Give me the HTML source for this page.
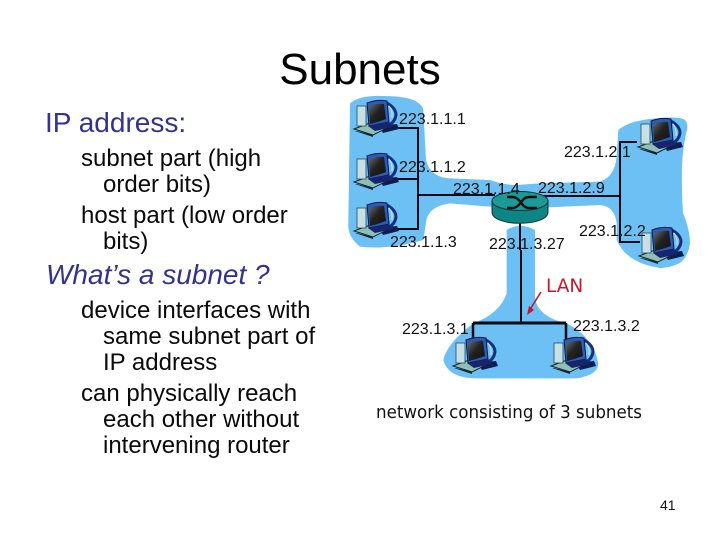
<!DOCTYPE html>
<html><head><meta charset="utf-8"><style>
html,body{margin:0;padding:0;background:#fff}
svg{display:block}
text{font-family:"Liberation Sans",sans-serif}
</style></head><body>
<svg width="720" height="540" viewBox="0 0 720 540" xmlns="http://www.w3.org/2000/svg">
<defs>
<linearGradient id="scr" x1="0" y1="0" x2="1" y2="1"><stop offset="0" stop-color="#6a6a6a"/><stop offset=".45" stop-color="#222"/><stop offset="1" stop-color="#111"/></linearGradient>
<g id="pc">
<path d="M26 26 L44 24 L46 29 L30 33 Z" fill="#0e1c50"/>
<path d="M1 29 L17 23 L34 28 L20 35 Z" fill="#8fc0b4" stroke="#10262c" stroke-width="1"/>
<path d="M4 31 L20 35 L20 37 L2 31 Z" fill="#123"/>
<rect x="4" y="6" width="9" height="20" fill="#c6dfe4" stroke="#2a4a60" stroke-width=".8"/>
<path d="M34 3 Q43 8 43 15 Q42 22 36 25" fill="none" stroke="#16307e" stroke-width="3"/>
<path d="M36 6 Q40 11 39 18" fill="none" stroke="#c4e0ea" stroke-width="1.2"/>
<path d="M14 3 Q24 -1 34 1 L36 22 L16 26 Z" fill="#2a5cb8" stroke="#0a1a40" stroke-width="1"/>
<path d="M16 7 Q23 3 31 4 L33 19 Q25 22 17 24 Z" fill="url(#scr)"/>
<path d="M15 26 L36 22 L40 27 L22 31 Z" fill="#17256e"/>
</g>
</defs>
<text x="360" y="84" font-size="44" text-anchor="middle" fill="#000">Subnets</text>
<text x="45" y="132" font-size="28" fill="#33338c">IP address:</text>
<g font-size="24" fill="#0a0a0a">
<text x="81" y="166">subnet part (high</text>
<text x="103" y="192">order bits)</text>
<text x="81" y="223">host part (low order</text>
<text x="103" y="249">bits)</text>
<text x="81" y="318">device interfaces with</text>
<text x="103" y="344">same subnet part of</text>
<text x="103" y="370">IP address</text>
<text x="81" y="401">can physically reach</text>
<text x="103" y="427">each other without</text>
<text x="103" y="453">intervening router</text>
</g>
<text x="46" y="284" font-size="28" font-style="italic" fill="#33338c">What’s a subnet ?</text>

<g transform="translate(340,90) scale(.3333)" fill="#6cc0f4">
<path d="M30 40 Q60 15 130 18 Q240 18 250 60 L258 210 Q270 262 330 265 L450 270 Q490 285 530 285 L600 280 L780 275 Q825 260 830 200 L835 120 Q870 90 950 85 Q1020 78 1035 90 Q1045 100 1041 120 Q1028 170 1026 231 Q1025 310 1029 369 Q1050 420 1050 459 Q1045 500 1020 519 Q990 534 960 534 Q860 520 830 450 L830 400 Q825 350 780 345 L625 352 L450 350 L330 340 Q260 350 258 400 L250 450 Q150 480 60 470 Q22 440 25 400 Z"/>
</g>
<g transform="translate(360,260) scale(.3333)" fill="#6cc0f4">
<path d="M440 -90 Q480 -115 525 -90 L525 110 Q530 170 620 190 Q700 230 715 310 Q715 345 650 355 L350 355 Q265 355 250 300 Q260 250 340 190 Q420 160 440 100 Z"/>
</g>

<g stroke="#0a0a14" stroke-width="2" fill="none">
<path d="M392 128 H418 V229 H392"/>
<path d="M392 179 H418"/>
<path d="M418 195 H495"/>
<path d="M540 196 H620"/>
<path d="M637 142 H620 V242 H640"/>
<path d="M520 222 V250"/>
<path d="M521 250 V322"/>
<path d="M473 323 H566" stroke-width="3"/>
<path d="M473 323 V340 M566 323 V340" stroke-width="2.5"/>
</g>

<use href="#pc" x="353" y="100"/>
<use href="#pc" x="353" y="153"/>
<use href="#pc" x="353" y="202"/>
<use href="#pc" x="637" y="118"/>
<use href="#pc" x="638" y="227"/>
<use href="#pc" x="452" y="337"/>
<use href="#pc" x="550" y="337"/>

<g>
<path d="M492 201 V212 C492 227 548 227 548 212 V201 Z" fill="#0d8585" stroke="#0b3333" stroke-width="1"/>
<ellipse cx="520" cy="201" rx="28" ry="9.5" fill="#1d9a98" stroke="#0b3333" stroke-width="1"/>
<path d="M507 197 H512 C521 197 521 208 529 208 H537 M507 208 H512 C521 208 521 197 529 197 H537" stroke="#111" stroke-width="2.4" fill="none"/>
</g>

<g font-size="16" fill="#111">
<text x="399" y="124">223.1.1.1</text>
<text x="399" y="172">223.1.1.2</text>
<text x="453" y="194">223.1.1.4</text>
<text x="538" y="193">223.1.2.9</text>
<text x="390" y="247">223.1.1.3</text>
<text x="489" y="249">223.1.3.27</text>
<text x="564" y="157">223.1.2.1</text>
<text x="579" y="236">223.1.2.2</text>
<text x="402" y="334">223.1.3.1</text>
<text x="573" y="331">223.1.3.2</text>
</g>
<text x="546" y="292" font-size="18.5" fill="#c0182c" style="font-family:'DejaVu Sans',sans-serif">LAN</text>
<path d="M541 292 L529 311" stroke="#c0182c" stroke-width="1.6"/>
<path d="M527 315 L529 306 L534 310 Z" fill="#c0182c"/>
<text x="376" y="418" font-size="18" fill="#111" textLength="266" lengthAdjust="spacingAndGlyphs" style="font-family:'DejaVu Sans',sans-serif">network consisting of 3 subnets</text>
<text x="660" y="510" font-size="14" fill="#111">41</text>
</svg>
</body></html>
